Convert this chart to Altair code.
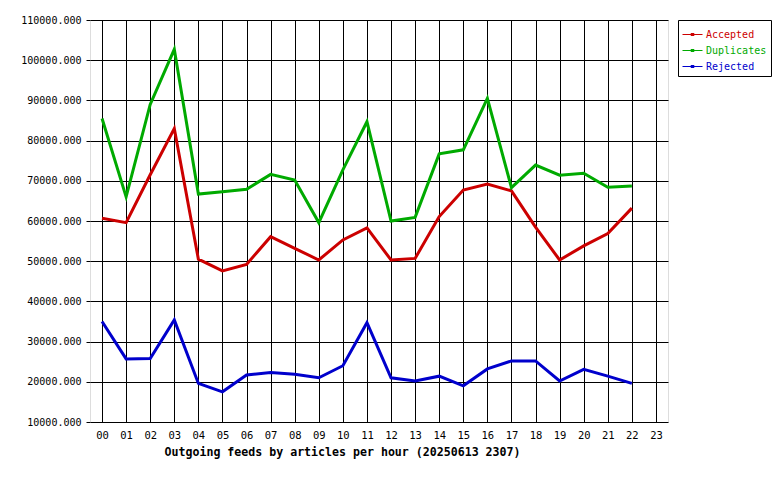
import altair as alt
import pandas as pd

hours = list(range(23))
hour_labels = [f"{h:02d}" for h in range(24)]
series_names = ["Accepted", "Duplicates", "Rejected"]
series_colors = ["#cc0000", "#00aa00", "#0000cc"]

accepted = [60700, 59600, 71500, 83000, 50500, 47600, 49200, 56100, 53200, 50300,
            55300, 58300, 50300, 50700, 61100, 67700, 69200, 67500, 58500, 50300,
            53800, 56900, 63200]
duplicates = [85500, 66000, 89000, 102700, 66700, 67300, 67900, 71600, 70200, 59600,
              72700, 84700, 60000, 60900, 76700, 77700, 90500, 68300, 73900, 71400,
              71900, 68400, 68700]
rejected = [35000, 25700, 25800, 35400, 19600, 17500, 21700, 22300, 21900, 21000,
            24000, 34700, 21000, 20200, 21400, 19000, 23200, 25200, 25200, 20200,
            23100, 21400, 19600]

rows = []
for name, vals in zip(series_names, [accepted, duplicates, rejected]):
    for h, v in zip(hours, vals):
        rows.append({"hour": h, "value": v, "series": name})
df = pd.DataFrame(rows)

label_color_expr = (
    "datum.value == 'Accepted' ? '#cc0000' : "
    "(datum.value == 'Duplicates' ? '#00aa00' : '#0000cc')"
)

mono = "DejaVu Sans Mono"

chart = alt.Chart(df).mark_line(strokeWidth=3, clip=True).encode(
    x=alt.X(
        "hour:Q",
        scale=alt.Scale(domain=[-0.5, 23.5], nice=False, zero=False),
        axis=alt.Axis(
            values=list(range(24)),
            labelExpr="datum.value < 10 ? '0' + datum.value : '' + datum.value",
            title="Outgoing feeds by articles per hour (20250613 2307)",
            titleFont=mono,
            titleFontSize=11.6,
            titleFontWeight="bold",
            titleColor="black",
            titleX=252,
            titleY=30,
            titleAlign="center",
            titleBaseline="middle",
            labelFont=mono,
            labelFontSize=10.5,
            labelColor="black",
            labelPadding=8,
            ticks=False,
            domain=False,
            grid=True,
            gridColor="black",
            gridOpacity=1,
            gridWidth=1,
            labelFlush=False,
        ),
    ),
    y=alt.Y(
        "value:Q",
        scale=alt.Scale(domain=[10000, 110000], nice=False, zero=False),
        axis=alt.Axis(
            values=list(range(10000, 110001, 10000)),
            format=".3f",
            title=None,
            labelFont=mono,
            labelFontSize=10,
            labelColor="black",
            labelPadding=5,
            tickSize=4,
            tickColor="black",
            domain=False,
            grid=True,
            gridColor="black",
            gridOpacity=1,
            gridWidth=1,
            labelFlush=False,
        ),
    ),
    color=alt.Color(
        "series:N",
        scale=alt.Scale(domain=series_names, range=series_colors),
        legend=alt.Legend(
            title=None,
            orient="none",
            legendX=588,
            legendY=0,
            strokeColor="black",
            fillColor="white",
            padding=4,
            rowPadding=-2,
            symbolType="M-1,0H1M-0.15,-0.1H0.15V0.1H-0.15Z",
            symbolSize=400,
            symbolStrokeWidth=1,
            symbolFillColor="transparent",
            labelFont=mono,
            labelFontSize=10,
            labelOffset=3,
            labelColor={"expr": label_color_expr},
        ),
    ),
).properties(
    width=578,
    height=402,
    padding={"left": 82, "top": 12, "right": 104, "bottom": 50},
    autosize="none",
).configure_view(
    fill="#e0e0e0",
    stroke="black",
    strokeWidth=1,
).configure(background="white")

chart.save("out.html", embed_options={"renderer": "svg", "actions": False})
